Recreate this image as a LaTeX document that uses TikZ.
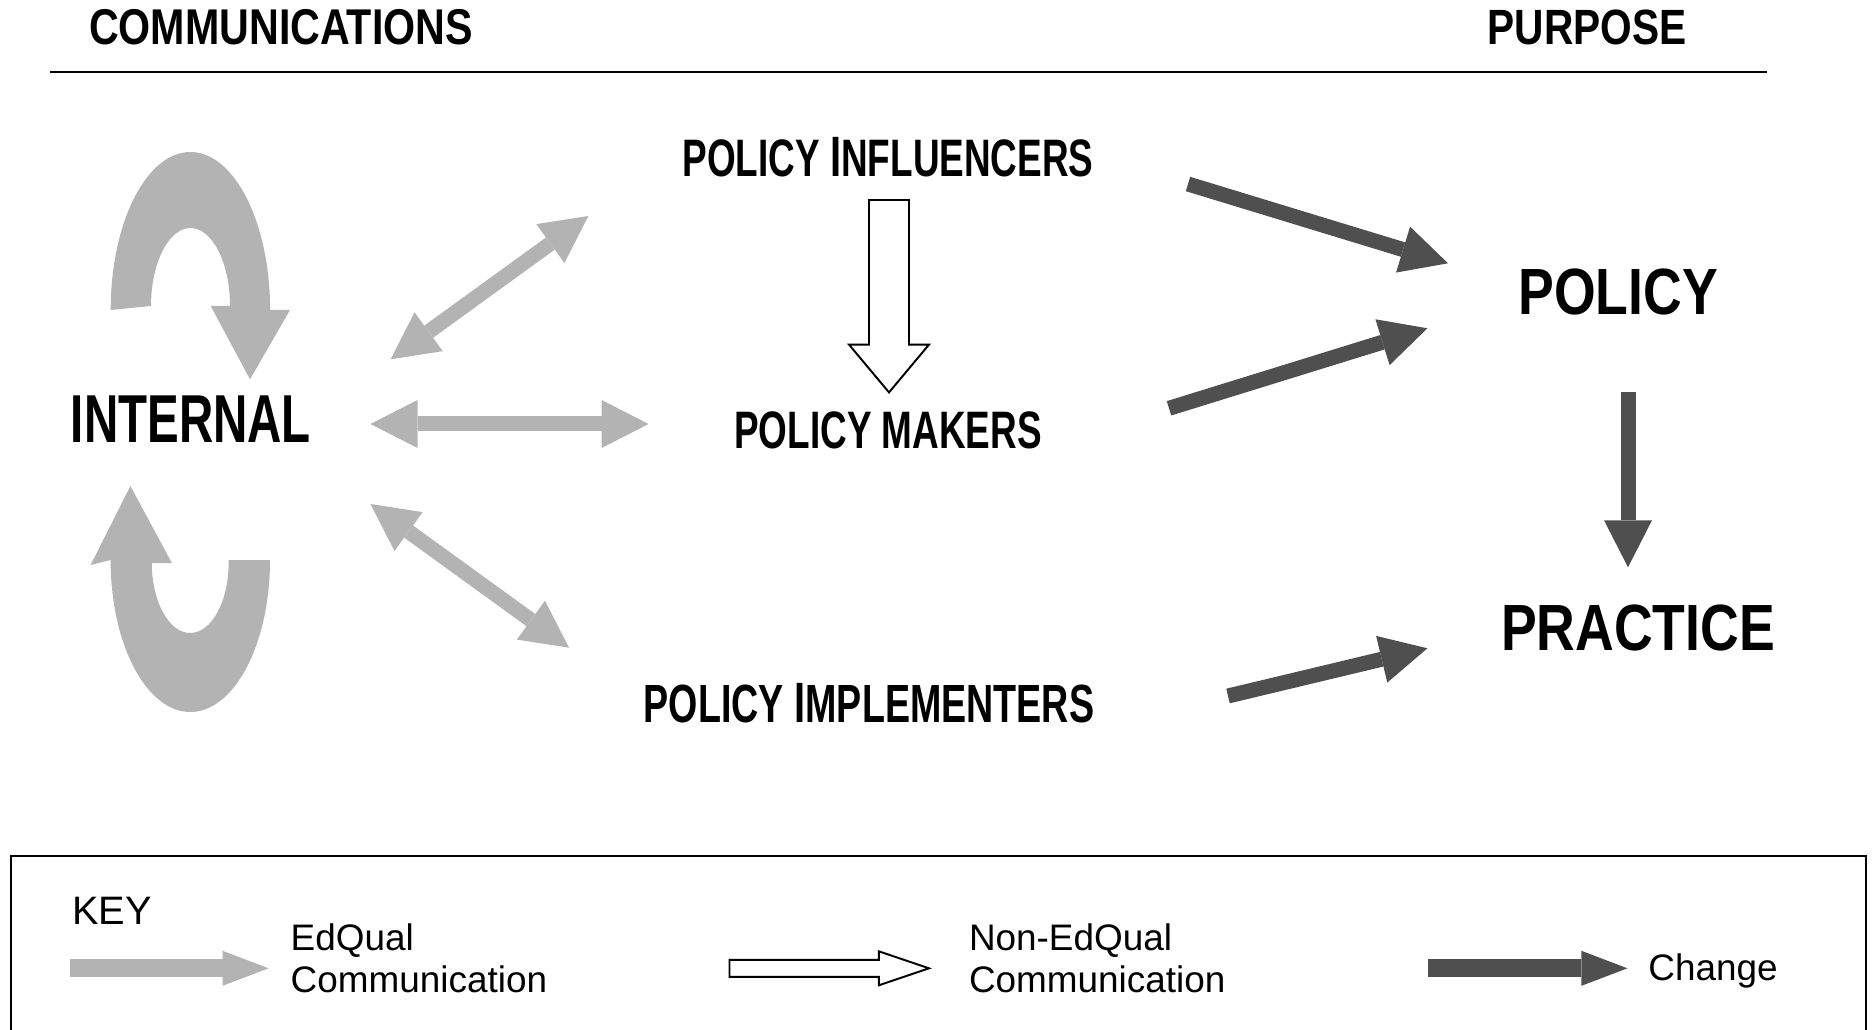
\documentclass[tikz,border=0pt]{standalone}
\usepackage{fontspec}
\setmainfont{Liberation Sans}
\newfontfamily\headfont[FakeStretch=0.82]{Liberation Sans}
\newfontfamily\condfont[FakeStretch=0.70]{Liberation Sans}
\usetikzlibrary{arrows.meta}
\definecolor{edqual}{RGB}{179,179,179}
\definecolor{change}{RGB}{79,79,79}
\newcommand{\bigI}{\fontsize{16.2pt}{18pt}\selectfont I}
\tikzset{
	bigtip/.tip={Triangle[length=4.7mm,width=4.8mm,line width=0pt]},
	keytip/.tip={Triangle[length=4.6mm,width=3.5mm,line width=0pt]},
	edqual arrow/.style={draw=edqual,line width=1.5mm,bigtip-bigtip},
	change arrow/.style={draw=change,line width=1.5mm,-bigtip},
	heading/.style={inner sep=0pt,font=\headfont\bfseries\fontsize{14.1pt}{16pt}\selectfont},
	aim/.style={inner sep=0pt,font=\headfont\bfseries\fontsize{18.6pt}{20pt}\selectfont},
	actor/.style={inner sep=0pt,font=\condfont\bfseries\fontsize{15pt}{17pt}\selectfont},
	keytext/.style={inner sep=0pt,anchor=west,align=left,font=\fontsize{10.5pt}{12pt}\selectfont}
}
\begin{document}
\begin{tikzpicture}[x=0.1mm,y=-0.1mm]
	\useasboundingbox (0,0) rectangle (1872,1030);
	% headings
	\node[heading,font=\headfont\bfseries\fontsize{14.3pt}{16pt}\selectfont] (comm) at (281,27) {COMMUNICATIONS};
	\node[heading] (purpose) at (1587,27) {PURPOSE};
	\draw[line width=0.57pt] (50,71.6) -- (1767,71.6);
	% actors and purposes
	\node[actor,font=\condfont\bfseries\fontsize{19.3pt}{20pt}\selectfont] (internal) at (191,419) {INTERNAL};
	\node[actor] (influencers) at (888,157.6) {POLICY {\bigI}NFLUENCERS};
	\node[actor] (makers) at (888,430.5) {POLICY MAKERS};
	\node[actor,font=\condfont\bfseries\fontsize{15.3pt}{17pt}\selectfont] (implementers) at (869,703) {POLICY {\bigI}MPLEMENTERS};
	\node[aim] (policy) at (1618,292) {POLICY};
	\node[aim] (practice) at (1638,628) {PRACTICE};
	\path
	(390.6,359.3) coordinate (g1a) (588.4,216) coordinate (g1b)
	(370.5,424) coordinate (g2a) (648.6,424) coordinate (g2b)
	(370.5,504) coordinate (g3a) (569,647.7) coordinate (g3b)
	(1188,184) coordinate (d1a) (1448,263.3) coordinate (d1b)
	(1169,408.3) coordinate (d2a) (1427.4,328.3) coordinate (d2b)
	(1628,391.7) coordinate (d3a) (1628,567.3) coordinate (d3b)
	(1228,696) coordinate (d4a) (1427.4,648.3) coordinate (d4b)
	(889,200) coordinate (oT) (889,392.4) coordinate (oH)
	;
	% internal loops
	\fill[edqual] (110.7,310) arc[start angle=180,end angle=360,x radius=79.7,y radius=158]
	-- (290,310) -- (250,379.3) -- (210.7,306) -- (230,306)
	arc[start angle=0,end angle=-180,x radius=39.5,y radius=78] -- cycle;
	\fill[edqual] (228.6,560) -- (270,560) arc[start angle=0,end angle=180,x radius=79.7,y radius=152]
	-- (90.6,565) -- (130.4,486) -- (171.9,563) -- (151.8,563)
	arc[start angle=180,end angle=0,x radius=38.4,y radius=70] -- cycle;
	\foreach \a/\b in {g1a/g1b,g2a/g2b,g3a/g3b} \draw[edqual arrow] (\a) -- (\b);
	\foreach \a/\b in {d1a/d1b,d2a/d2b,d3a/d3b,d4a/d4b} \draw[change arrow] (\a) -- (\b);
	\draw[line width=0.55pt,fill=white] (oT) ++(-20,0) -- ++(0,144.6) -- ++(-20,0) -- (oH)
	-- ++(40,-47.8) -- ++(-20,0) -- ++(0,-144.6) -- cycle;
	% key
	\draw[line width=0.57pt] (10.7,856) rectangle (1866,1060);
	\path
	(70.4,968.3) coordinate (kg1) (268.6,968.3) coordinate (kg2)
	(729.5,968.3) coordinate (koT) (929,968.3) coordinate (koH)
	(1428,968.3) coordinate (kc1) (1627.4,968.3) coordinate (kc2)
	;
	\node[keytext,font=\fontsize{11.3pt}{12pt}\selectfont] (key) at (71.6,911) {KEY};
	\draw[draw=edqual,line width=1.8mm,-keytip] (kg1) -- (kg2);
	\node[keytext] (kedqual) at (290,958) {EdQual\\Communication};
	\draw[line width=0.55pt,fill=white] (koT) ++(0,-8.5) -- ++(149.3,0) -- ++(0,-8.5) -- (koH)
	-- ++(-50.2,17) -- ++(0,-8.5) -- ++(-149.3,0) -- cycle;
	\node[keytext] (knon) at (968.3,958) {Non-EdQual\\Communication};
	\draw[draw=change,line width=1.8mm,-keytip] (kc1) -- (kc2);
	\node[keytext] (kchange) at (1647.7,971) {Change};
\end{tikzpicture}
\end{document}
